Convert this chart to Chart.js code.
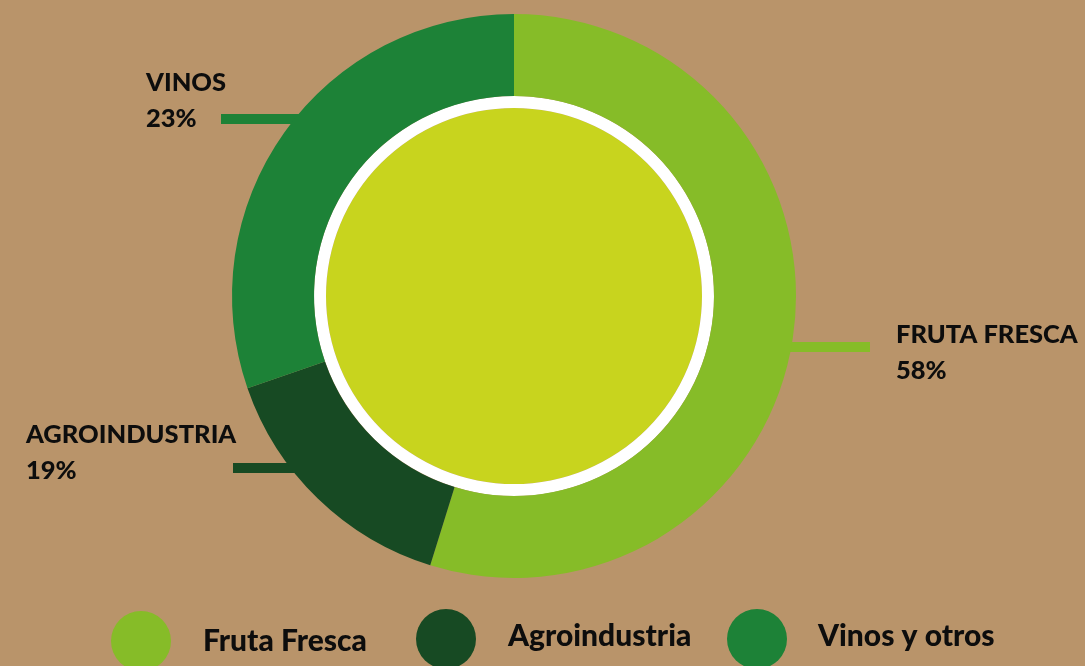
<!DOCTYPE html>
<html>
<head>
<meta charset="utf-8">
<script src="https://cdn.jsdelivr.net/npm/chart.js@4"></script>
<style>
  html,body{margin:0;padding:0;background:#B9946A;}
  #wrap{position:relative;width:1085px;height:666px;}
</style>
</head>
<body>
<div id="wrap"><canvas id="c"></canvas></div>
<script>
// slice shares as drawn in the picture, callout texts as printed
const categories   = ['Fruta Fresca','Agroindustria','Vinos y otros'];
const calloutNames = ['FRUTA FRESCA','AGROINDUSTRIA','VINOS'];
const calloutPct   = ['58%','19%','23%'];
const sliceShares  = [54.8, 14.9, 30.3];

const COLORS = ['#86BC28','#174A23','#1D8237'];
const DISC='#C8D41E', INK='#0d0d0d';
const FONT="Lato, 'Open Sans', sans-serif";

// callout placement: text anchor + leader line span
const callouts = [
  {x:896, y:343, line:[770,870,347]},
  {x:26,  y:443, line:[233,320,468]},
  {x:146, y:91,  line:[221,320,119]},
];
const legendPos = [
  {cx:141, cy:641, tx:203, ty:651},
  {cx:446, cy:639, tx:508, ty:646},
  {cx:757, cy:639, tx:818, ty:646},
];

const leaders = {
  id:'leaders',
  beforeDatasetsDraw(chart){
    const ctx=chart.ctx; ctx.save();
    callouts.forEach((c,i)=>{
      const [x0,x1,y]=c.line;
      ctx.fillStyle=COLORS[i];
      ctx.fillRect(x0,y-5,x1-x0,10);
    });
    ctx.restore();
  },
  afterDraw(chart){
    const ctx=chart.ctx; ctx.save();
    ctx.fillStyle=INK; ctx.textBaseline='alphabetic'; ctx.textAlign='left';
    ctx.font=`900 25.5px ${FONT}`;
    callouts.forEach((c,i)=>{
      ctx.fillText(calloutNames[i],c.x,c.y);
      ctx.fillText(calloutPct[i],c.x,c.y+36);
    });
    // legend
    ctx.font=`900 30px ${FONT}`;
    legendPos.forEach((p,i)=>{
      ctx.beginPath(); ctx.arc(p.cx,p.cy,30,0,Math.PI*2);
      ctx.fillStyle=COLORS[i]; ctx.fill();
      ctx.fillStyle=INK; ctx.fillText(chart.data.labels[i],p.tx,p.ty);
    });
    ctx.restore();
  }
};

new Chart(document.getElementById('c'),{
  type:'doughnut',
  data:{labels:categories, datasets:[
    {data:sliceShares, backgroundColor:COLORS, borderWidth:0, weight:82, hoverOffset:0},
    {data:[1], backgroundColor:['#FFFFFF'], borderWidth:0, weight:12, hoverOffset:0},
    {data:[1], backgroundColor:[DISC], borderWidth:0, weight:188, hoverOffset:0},
  ]},
  options:{
    responsive:true, maintainAspectRatio:false, animation:false,
    cutout:0, rotation:0,
    layout:{padding:{top:14,bottom:88,left:232,right:289}},
    plugins:{
      legend:{display:false},
      tooltip:{filter:ctx=>ctx.datasetIndex===0,
        callbacks:{label:ctx=>` ${ctx.label}: ${calloutPct[ctx.dataIndex]}`}}
    }
  },
  plugins:[leaders]
});
</script>
</body>
</html>
